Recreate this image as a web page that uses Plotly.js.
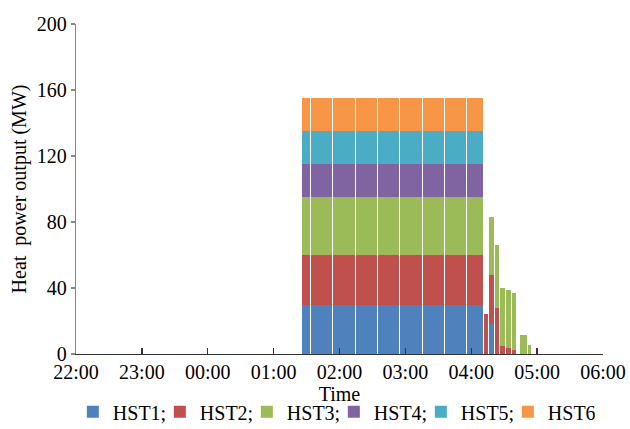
<!DOCTYPE html>
<html>
<head>
<meta charset="utf-8">
<script src="https://cdn.plot.ly/plotly-3.0.1.min.js"></script>
<style>html,body{margin:0;padding:0;background:#fff;}#chart{width:630px;height:429px;}</style>
</head>
<body>
<div id="chart"></div>
<script>
// ---- data ----
var seriesNames = ["HST1;", "HST2;", "HST3;", "HST4;", "HST5;", "HST6"];
var binStart = ["01:25","01:34","01:54","02:15","02:35","02:55","03:16","03:36","03:56",
                "04:11","04:16","04:21","04:26","04:31","04:37","04:44","04:51"];
var binEnd   = ["01:34","01:54","02:15","02:35","02:55","03:16","03:36","03:56","04:11",
                "04:16","04:21","04:26","04:31","04:37","04:41","04:51","04:55"];
var hst1 = [30,30,30,30,30,30,30,30,30,   0,18, 0, 0, 0,  0,  0,  0];
var hst2 = [30,30,30,30,30,30,30,30,30,  24,30,28, 5,3.5,2.5, 0,  0];
var hst3 = [35,35,35,35,35,35,35,35,35,   0,35,38,35,35.3,34.5,11.5,5.5];
var hst4 = [20,20,20,20,20,20,20,20,20,   0, 0, 0, 0, 0,  0,  0,  0];
var hst5 = [20,20,20,20,20,20,20,20,20,   0, 0, 0, 0, 0,  0,  0,  0];
var hst6 = [20,20,20,20,20,20,20,20,20,   0, 0, 0, 0, 0,  0,  0,  0];
var xTickLabels = ["22:00","23:00","00:00","01:00","02:00","03:00","04:00","05:00","06:00"];
var yTickVals = [0, 40, 80, 120, 160, 200];

// ---- helpers ----
var colors = ["#4F81BD", "#C0504D", "#9BBB59", "#8064A2", "#4BACC6", "#F79646"];
function toMin(s) { // minutes after 22:00
  var p = s.split(":"); var h = +p[0], m = +p[1];
  if (h < 22) h += 24;
  return (h - 22) * 60 + m;
}
var xs = binStart.map(function (s, i) { return (toMin(s) + toMin(binEnd[i])) / 2; });
var ws = binStart.map(function (s, i) { return toMin(binEnd[i]) - toMin(s) - 0.9; });
var allSeries = [hst1, hst2, hst3, hst4, hst5, hst6];

var traces = allSeries.map(function (vals, k) {
  return {
    type: "bar", x: xs, y: vals, width: ws, name: seriesNames[k],
    marker: { color: colors[k], line: { width: 0 } }, hoverinfo: "skip"
  };
});

var font = { family: "Liberation Serif, Times New Roman, serif", size: 20, color: "#000" };
var layout = {
  width: 630, height: 429,
  margin: { l: 76, r: 27, t: 24, b: 75, autoexpand: false },
  paper_bgcolor: "#fff", plot_bgcolor: "#fff",
  barmode: "stack",
  font: font,
  showlegend: true,
  legend: {
    orientation: "h", x: -0.006, xanchor: "left", y: -0.175, yanchor: "middle",
    font: font, traceorder: "normal", itemwidth: 30, entrywidth: 42, tracegroupgap: 0
  },
  xaxis: {
    range: [0, 480],
    tickvals: xTickLabels.map(toMin), ticktext: xTickLabels,
    ticks: "inside", ticklen: 6, tickcolor: "#333", tickwidth: 1.3,
    showline: true, linecolor: "#333", linewidth: 1.3,
    showgrid: false, zeroline: false,
    tickfont: font,
    title: { text: "Time", font: font, standoff: 2 }
  },
  yaxis: {
    range: [0, 200],
    tickvals: yTickVals,
    ticks: "outside", ticklen: 4, tickcolor: "#888", tickwidth: 1.3,
    showline: true, linecolor: "#888", linewidth: 1.3,
    showgrid: false, zeroline: false,
    tickfont: font,
    title: { text: "Heat  power output (MW)", font: font, standoff: 4 }
  }
};
Plotly.newPlot("chart", traces, layout, { displayModeBar: false, staticPlot: true });
</script>
</body>
</html>
